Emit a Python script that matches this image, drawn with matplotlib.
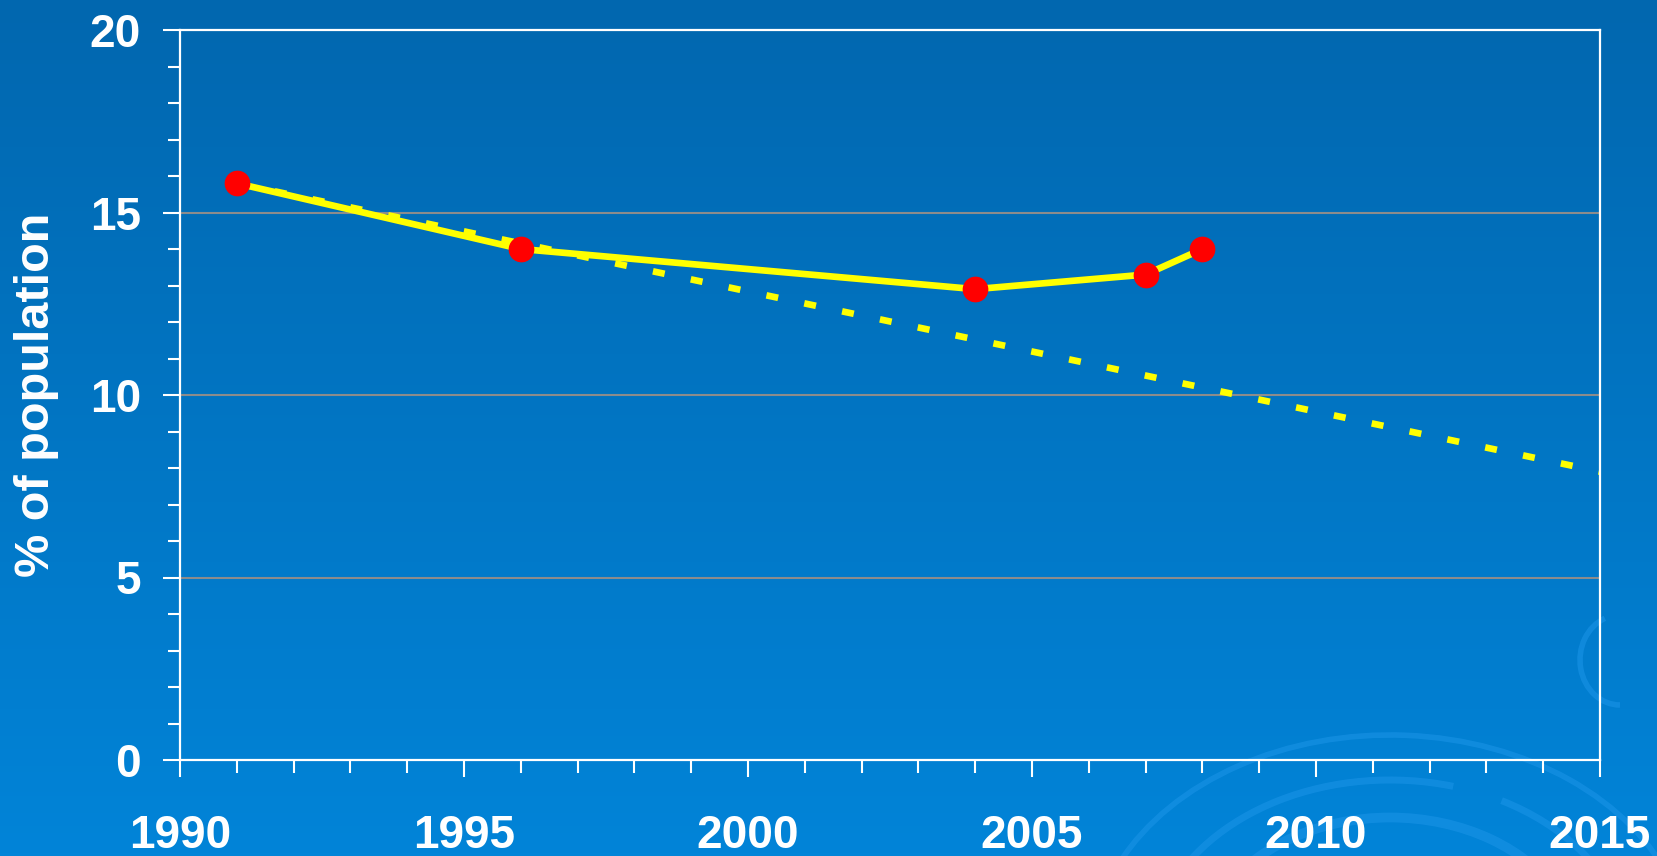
import numpy as np
import matplotlib
matplotlib.use("Agg")
import matplotlib.pyplot as plt
from matplotlib.patches import Arc
from matplotlib.ticker import MultipleLocator

# observed share of population
years = [1991, 1996, 2004, 2007, 2008]
pct = [15.8, 14.0, 12.9, 13.3, 14.0]

# target path (halving by 2015)
target_years = [1991, 2015]
target_pct = [15.8, 7.9]

x_ticks = [1990, 1995, 2000, 2005, 2010, 2015]
y_ticks = [0, 5, 10, 15, 20]

plt.rcParams["font.family"] = ["Liberation Sans", "DejaVu Sans"]
plt.rcParams["font.weight"] = "bold"

W, H = 1658, 856
fig = plt.figure(figsize=(W / 100, H / 100), dpi=100)

# background gradient + faint swirls
bg = fig.add_axes([0, 0, 1, 1], zorder=-1)
top = np.array([0x01, 0x67, 0xAF]) / 255
bot = np.array([0x02, 0x84, 0xD8]) / 255
t = np.linspace(0, 1, 256)[:, None, None]
grad = top * (1 - t) + bot * t
grad = np.repeat(grad, 2, axis=1)
bg.imshow(grad, aspect="auto", extent=[0, W, H, 0])
for r, th1, th2, lw in [(190, 200, 340, 7), (240, 195, 290, 5), (240, 305, 350, 5),
                        (130, 205, 330, 6), (300, 200, 345, 4), (90, 220, 320, 5)]:
    bg.add_patch(Arc((1390, 960), 2 * r, 2 * r * 0.75, theta1=th1, theta2=th2,
                     color="#1a93e6", lw=lw, alpha=0.6))
bg.add_patch(Arc((1620, 660), 80, 90, theta1=90, theta2=250, color="#1a93e6",
                 lw=4, alpha=0.6))
bg.set_xlim(0, W)
bg.set_ylim(H, 0)
bg.axis("off")

ax = fig.add_axes([180 / W, 1 - 760 / H, 1420 / W, 730 / H])
ax.set_facecolor("none")

ax.plot(target_years, target_pct, color="#FFFF00", lw=4.8,
        dashes=(1.8, 4.0), dash_capstyle="butt", zorder=2)
ax.plot(years, pct, color="#FFFF00", lw=4.8, zorder=3,
        marker="o", markersize=17.5, markerfacecolor="#FF0000",
        markeredgecolor="#FF0000")

ax.set_xlim(1990, 2015)
ax.set_ylim(0, 20)
ax.set_xticks(x_ticks)
ax.set_yticks(y_ticks)
ax.xaxis.set_minor_locator(MultipleLocator(1))
ax.yaxis.set_minor_locator(MultipleLocator(1))

for y in [5, 10, 15]:
    ax.axhline(y, color="#8C8C8C", lw=1.5, zorder=1)

for s in ax.spines.values():
    s.set_color("white")
    s.set_linewidth(1.6)

ax.tick_params(which="major", colors="white", length=12, width=1.5)
ax.tick_params(which="minor", colors="white", length=9, width=1.5)
ax.tick_params(axis="x", which="major", pad=27, labelsize=33)
ax.tick_params(axis="y", which="major", pad=16, labelsize=33)
for lab in ax.get_xticklabels() + ax.get_yticklabels():
    lab.set_fontweight("bold")

ax.set_ylabel("% of population", color="white", fontsize=35,
              fontweight="bold", labelpad=22)

fig.savefig("out.png", dpi=100)
